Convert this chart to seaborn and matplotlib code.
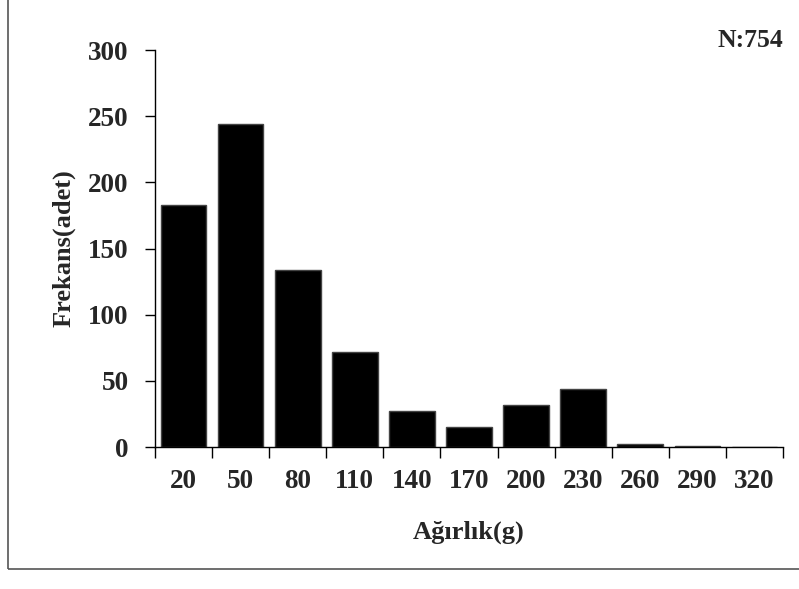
import matplotlib
matplotlib.use("Agg")
import matplotlib.pyplot as plt
import seaborn as sns
import pandas as pd
from matplotlib.patches import Rectangle

categories = ["20", "50", "80", "110", "140", "170", "200", "230", "260", "290", "320"]
frequencies = [183, 244, 134, 72, 27, 15, 32, 44, 2, 1, 0]
y_ticks = [0, 50, 100, 150, 200, 250, 300]

sns.set_theme(style="white")
plt.rcParams['font.family'] = ['Liberation Serif', 'DejaVu Serif']
plt.rcParams['font.weight'] = 'bold'

df = pd.DataFrame({"Ağırlık": categories, "Frekans": frequencies})

fig = plt.figure(figsize=(7.99, 5.89), dpi=100)
fig.patch.set_facecolor("white")
ax = fig.add_axes([0.194, 0.241, 0.786, 0.674])

sns.barplot(data=df, x="Ağırlık", y="Frekans", color="black", width=0.8,
            edgecolor="#444444", linewidth=1.0, saturation=1, ax=ax)

ax.set_ylim(0, 300)
ax.set_xlim(-0.5, len(categories) - 0.5)
ax.set_yticks(y_ticks)
ax.set_yticklabels([str(t) for t in y_ticks], fontsize=19.5, fontweight="bold")
ax.set_xticks(range(len(categories)))
ax.set_xticklabels(categories, fontsize=19.5, fontweight="bold")
ax.set_xticks([i - 0.5 for i in range(len(categories) + 1)], minor=True)
ax.tick_params(axis="x", which="major", length=0, pad=16)
ax.tick_params(axis="x", which="minor", length=8, width=1, color="black", direction="out", bottom=True)
ax.tick_params(axis="y", which="major", length=7, width=1, color="black", direction="out", left=True, pad=12)

for s in ["top", "right"]:
    ax.spines[s].set_visible(False)
for s in ["left", "bottom"]:
    ax.spines[s].set_color("black")
    ax.spines[s].set_linewidth(1)

ax.set_xlabel("Ağırlık(g)", fontsize=19, fontweight="bold", labelpad=19)
ax.set_ylabel("Frekans(adet)", fontsize=19, fontweight="bold", labelpad=9)

fig.text(0.98, 0.932, "N:754", ha="right", va="center", fontsize=18.5, fontweight="bold")

fig.patches.append(Rectangle((0.010, 0.034), 1.2, 1.2, transform=fig.transFigure,
                             fill=False, edgecolor="#555555", linewidth=1.2, zorder=10))

fig.savefig("out.png", dpi=100)
